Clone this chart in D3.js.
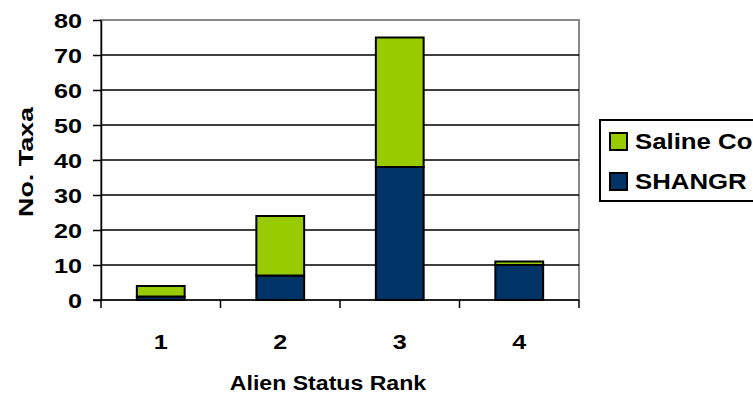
<!DOCTYPE html>
<html>
<head>
<meta charset="utf-8">
<script src="https://cdn.jsdelivr.net/npm/d3@7"></script>
<style>
  body { margin: 0; background: #fff; }
  svg text { font-family: "Liberation Sans", Arial, sans-serif; font-weight: bold; fill: #000; }
</style>
</head>
<body>
<div id="chart"></div>
<script>
// data
const categories = ["1", "2", "3", "4"];
const shangr = [1, 7, 38, 10];
const salineCo = [3, 17, 37, 1];
const seriesNames = ["Saline Co", "SHANGR"];
const yTicks = [0, 10, 20, 30, 40, 50, 60, 70, 80];

const width = 753, height = 398;
const plot = { left: 101, right: 579, top: 20, bottom: 300 };

const svg = d3.select("#chart").append("svg")
  .attr("width", width).attr("height", height);

// the source text looks a bit wide, stretch it sideways
function stretch(sel, sx) {
  sel.each(function () {
    const t = d3.select(this);
    const tx = +t.attr("x") || 0, ty = +t.attr("y") || 0;
    t.attr("x", 0).attr("y", 0)
      .attr("transform", `translate(${tx},${ty}) scale(${sx},1)`);
  });
}

const x = d3.scaleBand().domain(categories).range([plot.left, plot.right]).paddingInner(0.6).paddingOuter(0.3);
const xb = d3.scaleBand().domain(categories).range([plot.left, plot.right]);
const y = d3.scaleLinear().domain([0, 80]).range([plot.bottom, plot.top]);

// plot border (grey)
svg.append("rect")
  .attr("x", plot.left).attr("y", plot.top)
  .attr("width", plot.right - plot.left).attr("height", plot.bottom - plot.top)
  .attr("fill", "none").attr("stroke", "#888").attr("stroke-width", 2);

// gridlines
svg.append("g").selectAll("line")
  .data(yTicks.filter(t => t > 0 && t < 80))
  .enter().append("line")
  .attr("x1", plot.left).attr("x2", plot.right)
  .attr("y1", d => y(d)).attr("y2", d => y(d))
  .attr("stroke", "#000").attr("stroke-width", 1.5);

// stacked bars
const rows = categories.map((c, i) => ({ cat: c, SHANGR: shangr[i], "Saline Co": salineCo[i] }));
const stack = d3.stack().keys(["SHANGR", "Saline Co"])(rows);
const colors = { "SHANGR": "#003366", "Saline Co": "#99cc00" };

svg.append("g").selectAll("g")
  .data(stack).enter().append("g")
  .attr("fill", d => colors[d.key])
  .selectAll("rect")
  .data(d => d).enter().append("rect")
  .attr("x", d => x(d.data.cat))
  .attr("width", x.bandwidth())
  .attr("y", d => y(d[1]))
  .attr("height", d => y(d[0]) - y(d[1]))
  .attr("stroke", "#000").attr("stroke-width", 2);

// y axis
const yAxis = svg.append("g")
  .attr("transform", `translate(${plot.left},0)`)
  .call(d3.axisLeft(y).tickValues(yTicks).tickSize(8).tickSizeOuter(0).tickPadding(11));
yAxis.attr("font-family", null).attr("font-size", null);
yAxis.select(".domain").attr("stroke", "#000").attr("stroke-width", 1.5);
yAxis.selectAll(".tick line").attr("stroke", "#000").attr("stroke-width", 1.5);
yAxis.selectAll("text").attr("font-size", 21).attr("dy", "0.35em");
stretch(yAxis.selectAll("text"), 1.2);

// x axis
const xAxis = svg.append("g").attr("transform", `translate(0,${plot.bottom})`);
xAxis.append("line")
  .attr("x1", plot.left - 8).attr("x2", plot.right)
  .attr("y1", 0).attr("y2", 0)
  .attr("stroke", "#000").attr("stroke-width", 1.5);
xAxis.selectAll(".tk")
  .data(categories.concat(["end"]))
  .enter().append("line")
  .attr("x1", (d, i) => i < categories.length ? xb(d) : plot.right)
  .attr("x2", (d, i) => i < categories.length ? xb(d) : plot.right)
  .attr("y1", 0).attr("y2", 8)
  .attr("stroke", "#000").attr("stroke-width", 1.5);
const xl = xAxis.selectAll(".lbl")
  .data(categories).enter().append("text")
  .attr("x", d => xb(d) + xb.bandwidth() / 2)
  .attr("y", 49)
  .attr("text-anchor", "middle")
  .attr("font-size", 21)
  .text(d => d);
stretch(xl, 1.2);

// axis titles
const xt = svg.append("text")
  .attr("x", 328).attr("y", 390)
  .attr("text-anchor", "middle").attr("font-size", 21)
  .text("Alien Status Rank");
stretch(xt, 1.1);

svg.append("text")
  .attr("transform", `translate(33,162) rotate(-90) scale(1.28,1)`)
  .attr("text-anchor", "middle").attr("font-size", 21)
  .text("No. Taxa");

// legend
const legend = svg.append("g");
legend.append("rect")
  .attr("x", 600).attr("y", 120).attr("width", 170).attr("height", 81)
  .attr("fill", "#fff").attr("stroke", "#000").attr("stroke-width", 2);
const li = legend.selectAll(".li").data(seriesNames).enter().append("g")
  .attr("transform", (d, i) => `translate(610,${133 + i * 40})`);
li.append("rect")
  .attr("width", 17).attr("height", 17)
  .attr("fill", d => colors[d]).attr("stroke", "#000").attr("stroke-width", 2);
const lt = li.append("text")
  .attr("x", 25).attr("y", 16)
  .attr("font-size", 21.5)
  .text(d => d);
stretch(lt, 1.2);
</script>
</body>
</html>
